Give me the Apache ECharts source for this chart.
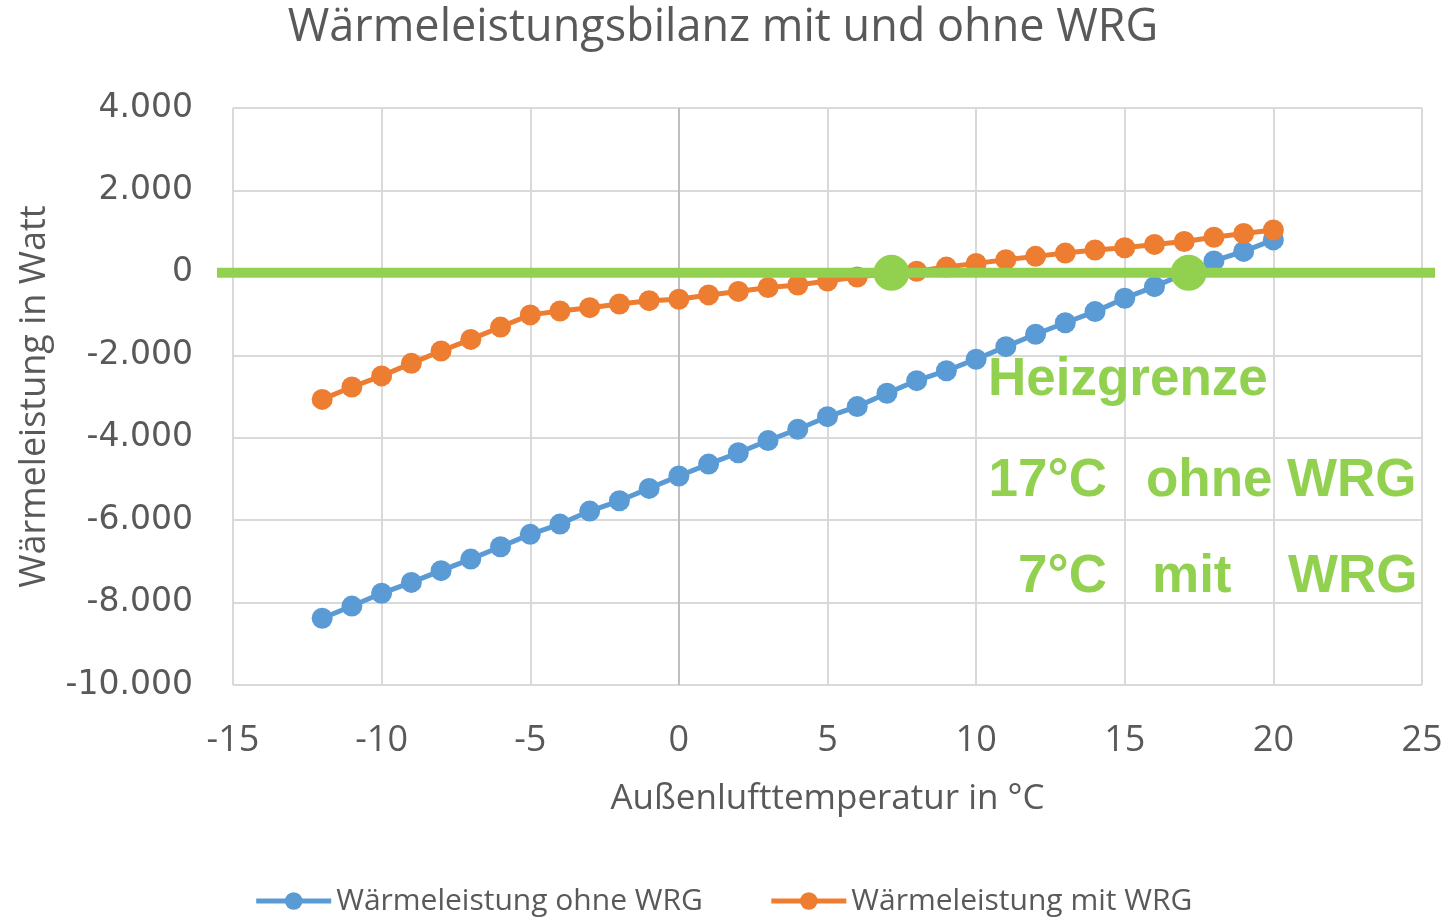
<!DOCTYPE html>
<html>
<head>
<meta charset="utf-8">
<title>Wärmeleistungsbilanz</title>
<script src="https://cdn.jsdelivr.net/npm/echarts@6/dist/echarts.min.js"></script>
<style>
	html, body { margin: 0; padding: 0; background: #fff; }
	#chart { width: 1446px; height: 917px; }
</style>
</head>
<body>
<div id="chart"></div>
<script>
	// Außenlufttemperatur in °C
	var temps = [-12, -11, -10, -9, -8, -7, -6, -5, -4, -3, -2, -1, 0, 1, 2, 3, 4, 5, 6, 7, 8, 9, 10, 11, 12, 13, 14, 15, 16, 17, 18, 19, 20];
	// Wärmeleistung in Watt
	var ohneWRG = [-8380, -8085, -7775, -7510, -7225, -6945, -6645, -6345, -6095, -5780, -5530, -5230, -4930, -4640, -4365, -4070, -3795, -3490, -3245, -2920, -2615, -2375, -2095, -1790, -1490, -1210, -940, -615, -335, -20, 290, 520, 800];
	var mitWRG = [-3070, -2770, -2500, -2195, -1895, -1615, -1315, -1020, -925, -845, -755, -675, -640, -535, -450, -355, -295, -200, -100, -20, 40, 140, 230, 320, 400, 480, 555, 610, 690, 760, 865, 955, 1040];
	// Heizgrenze: Schnittpunkte mit der Nulllinie
	var heizgrenzeX = [7.15, 17.15];

	var blue = '#5B9BD5', orange = '#ED7D31', green = '#92D050';
	var textFont = 'Open Sans';

	function pairs(xs, ys) {
		var out = [];
		for(var i = 0; i < xs.length; i++) {
			out.push([xs[i], ys[i]]);
		}
		return out;
	}

	function fmtDe(v) {
		var s = String(Math.abs(v));
		s = s.replace(/\B(?=(\d{3})+(?!\d))/g, '.');
		return (v < 0 ? '-' : '') + s;
	}

	function greenText(txt, x, y, align) {
		return {
			type: 'text',
			x: x,
			y: y,
			z: 100,
			style: {
				text: txt,
				fill: green,
				font: 'bold 53px "Liberation Sans", Arial, sans-serif',
				align: align,
				verticalAlign: 'middle'
			}
		};
	}

	var chart = echarts.init(document.getElementById('chart'));
	var option = {
		animation: false,
		backgroundColor: '#fff',
		title: {
			text: 'Wärmeleistungsbilanz mit und ohne WRG',
			left: 'center',
			top: 1,
			textStyle: {
				fontFamily: textFont,
				fontSize: 45,
				fontWeight: 'normal',
				color: '#595959'
			}
		},
		grid: [{
			left: 233,
			right: 24,
			top: 108,
			bottom: 232
		}, {
			// etwas breiter, damit die Nulllinie über den Plotbereich hinausragt
			left: 217,
			right: 11,
			top: 108,
			bottom: 232
		}],
		legend: {
			data: ['Wärmeleistung ohne WRG', 'Wärmeleistung mit WRG'],
			top: 881,
			left: 'center',
			itemWidth: 75,
			itemHeight: 22,
			itemGap: 66,
			lineStyle: { width: 5 },
			textStyle: {
				fontFamily: textFont,
				fontSize: 30,
				color: '#595959'
			}
		},
		xAxis: [{
			type: 'value',
			min: -15,
			max: 25,
			interval: 5,
			name: 'Außenlufttemperatur in °C',
			nameLocation: 'middle',
			nameGap: 97,
			nameTextStyle: {
				fontFamily: textFont,
				fontSize: 35,
				color: '#595959'
			},
			axisLine: { show: false },
			axisTick: { show: false },
			axisLabel: {
				margin: 38,
				fontFamily: textFont,
				fontSize: 36,
				color: '#595959'
			},
			splitLine: { lineStyle: { color: '#d9d9d9', width: 2 } }
		}, {
			type: 'value',
			gridIndex: 1,
			min: 0,
			max: 1,
			show: false
		}],
		yAxis: [{
			type: 'value',
			min: -10000,
			max: 4000,
			interval: 2000,
			name: 'Wärmeleistung in Watt',
			nameLocation: 'middle',
			nameGap: 180,
			nameTextStyle: {
				fontFamily: textFont,
				fontSize: 36,
				color: '#595959'
			},
			axisLine: { show: false },
			axisTick: { show: false },
			axisLabel: {
				margin: 40,
				fontFamily: 'DejaVu Sans',
				fontSize: 33,
				color: '#595959',
				formatter: fmtDe
			},
			splitLine: { lineStyle: { color: '#d9d9d9', width: 2 } }
		}, {
			type: 'value',
			gridIndex: 1,
			min: -10000,
			max: 4000,
			show: false
		}],
		series: [{
			name: 'Wärmeleistung ohne WRG',
			type: 'line',
			symbol: 'circle',
			symbolSize: 21,
			color: blue,
			lineStyle: { color: blue, width: 5 },
			itemStyle: { color: blue },
			data: pairs(temps, ohneWRG),
			markLine: {
				silent: true,
				symbol: 'none',
				label: { show: false },
				lineStyle: { color: '#bfbfbf', width: 2, type: 'solid' },
				data: [{ xAxis: 0 }],
				z: 1
			},
			z: 3
		}, {
			name: 'Wärmeleistung mit WRG',
			type: 'line',
			symbol: 'circle',
			symbolSize: 21,
			color: orange,
			lineStyle: { color: orange, width: 5 },
			itemStyle: { color: orange },
			data: pairs(temps, mitWRG),
			z: 3
		}, {
			name: 'Nulllinie',
			type: 'line',
			xAxisIndex: 1,
			yAxisIndex: 1,
			symbol: 'none',
			clip: false,
			silent: true,
			lineStyle: { color: green, width: 10, cap: 'butt' },
			data: [[0, 0], [1, 0]],
			z: 5
		}, {
			name: 'Heizgrenze',
			type: 'scatter',
			symbol: 'circle',
			symbolSize: 36,
			silent: true,
			itemStyle: { color: green, opacity: 1 },
			data: pairs(heizgrenzeX, [0, 0]),
			z: 6
		}],
		graphic: [
			greenText('Heizgrenze', 988, 380, 'left'),
			greenText('17°C', 1107, 481, 'right'),
			greenText('ohne', 1146, 481, 'left'),
			greenText('WRG', 1287, 481, 'left'),
			greenText('7°C', 1107, 577, 'right'),
			greenText('mit', 1152, 577, 'left'),
			greenText('WRG', 1288, 577, 'left')
		]
	};
	chart.setOption(option);
</script>
</body>
</html>
